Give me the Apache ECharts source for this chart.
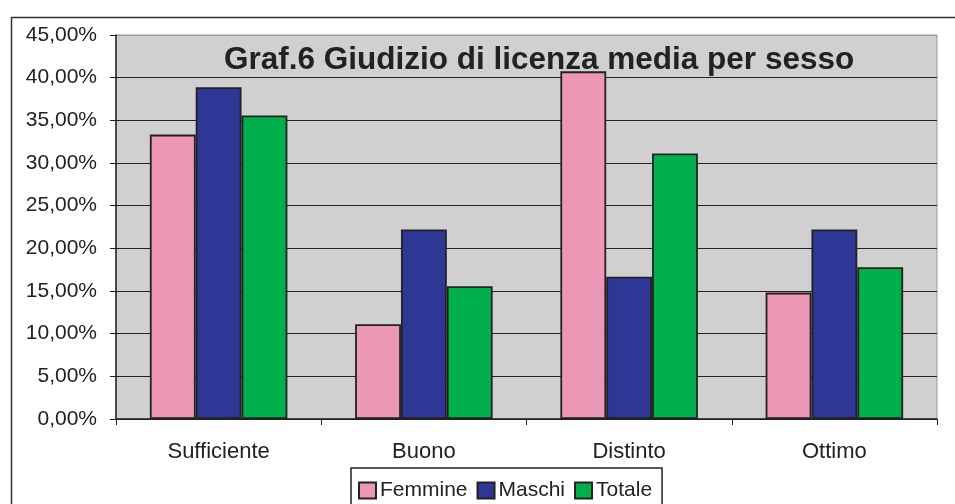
<!DOCTYPE html>
<html>
<head>
<meta charset="utf-8">
<script src="https://cdn.jsdelivr.net/npm/echarts@6/dist/echarts.min.js"></script>
<style>html,body{margin:0;padding:0;background:#fff;}#c{width:955px;height:504px;}</style>
</head>
<body>
<div id="c"></div>
<script>
const categories = ['Sufficiente', 'Buono', 'Distinto', 'Ottimo'];
const femmine = [33.33, 11.11, 40.74, 14.81];
const maschi = [38.89, 22.22, 16.67, 22.22];
const totale = [35.56, 15.56, 31.11, 17.78];
const seriesNames = ['Femmine', 'Maschi', 'Totale'];
const titleText = 'Graf.6 Giudizio di licenza media per sesso';

const FONT = 'Arial, "Liberation Sans", sans-serif';
const colors = ['#EB97B5', '#2E3796', '#00B04D'];
const chart = echarts.init(document.getElementById('c'), null, {renderer: 'canvas'});
const mk = (name, data, i) => ({
  name, type: 'bar', data,
  barGap: '0%', barCategoryGap: '33%',
  itemStyle: {color: colors[i], borderColor: '#222', borderWidth: 1.8}
});
chart.setOption({
  animation: false,
  backgroundColor: '#fff',
  title: {
    text: titleText, left: 224, top: 44, padding: 0,
    textStyle: {fontFamily: FONT, fontSize: 31.5, fontWeight: 'bold', color: '#222'}
  },
  graphic: [{
    type: 'rect', left: 9, top: 15, z: -1, silent: true,
    shape: {width: 980, height: 520},
    style: {fill: 'none', stroke: '#333', lineWidth: 1.5}
  }],
  legend: {
    data: seriesNames, left: 351, top: 468, orient: 'horizontal',
    padding: [12, 10, 14, 7], itemGap: 9, itemWidth: 17, itemHeight: 16,
    borderColor: '#222', borderWidth: 1.5, backgroundColor: '#fff',
    icon: 'rect',
    textStyle: {fontFamily: FONT, fontSize: 21, color: '#222', padding: [0, 0, 0, -1]}
  },
  grid: {left: 116, right: 18, top: 35, bottom: 85, show: true, backgroundColor: '#D0D0D0', borderColor: '#999', borderWidth: 1},
  xAxis: {
    type: 'category', data: categories,
    axisLine: {lineStyle: {color: '#222', width: 1.5}},
    axisTick: {show: true, length: 6, lineStyle: {color: '#222'}},
    axisLabel: {fontFamily: FONT, fontSize: 22, color: '#222', margin: 22}
  },
  yAxis: {
    type: 'value', min: 0, max: 45, interval: 5,
    axisLine: {show: true, lineStyle: {color: '#222', width: 1.5}},
    axisTick: {show: true, length: 6, lineStyle: {color: '#222'}},
    splitLine: {show: true, lineStyle: {color: ['#222','#222','#222','#222','#222','#222','#222','#222','#222','#999'], width: 1.2}},
    axisLabel: {fontFamily: FONT, fontSize: 21, color: '#222', margin: 19,
      formatter: v => v.toFixed(2).replace('.', ',') + '%'}
  },
  series: [mk(seriesNames[0], femmine, 0), mk(seriesNames[1], maschi, 1), mk(seriesNames[2], totale, 2)]
});
</script>
</body>
</html>
